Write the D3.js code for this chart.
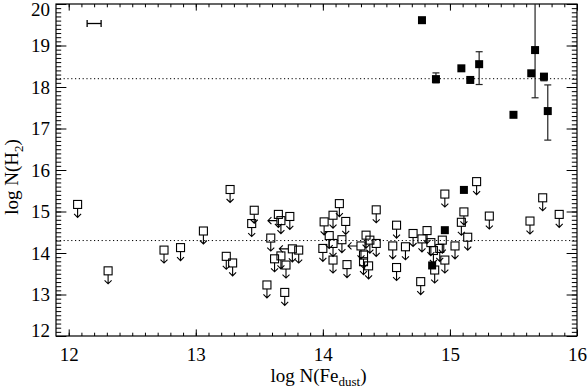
<!DOCTYPE html>
<html>
<head>
<meta charset="utf-8">
<script src="https://cdn.jsdelivr.net/npm/d3@7/dist/d3.min.js"></script>
<style>
body { margin: 0; background: #fff; }
svg { display: block; }
text { font-family: "Liberation Serif", "Times New Roman", serif; fill: #000; }
</style>
</head>
<body>
<div id="chart"></div>
<script>
// upper limits on N(H2) (open squares + down arrow)
var limX = [12.07, 12.31, 12.75, 12.88, 13.06, 13.27, 13.24, 13.29, 13.46, 13.44,
            13.56, 13.59, 13.65, 13.67, 13.74, 13.62, 13.67, 13.71, 13.70, 13.76,
            13.81, 14.01, 14.08, 14.13, 14.18, 14.05, 14.00, 14.08, 14.15, 14.08,
            14.19, 14.30, 14.34, 14.37, 14.42, 14.32, 14.32, 14.36, 14.42, 14.58,
            14.55, 14.65, 14.58, 14.71, 14.82, 14.78, 14.77, 14.85, 14.87, 14.92,
            14.94, 14.88, 14.96, 15.04, 14.96, 15.11, 15.09, 15.14, 15.21, 15.31,
            15.63, 15.73, 15.86];
var limY = [15.17, 13.57, 14.07, 14.13, 14.53, 15.53, 13.92, 13.76, 15.03, 14.71,
            13.23, 14.36, 14.93, 14.78, 14.88, 13.86, 13.93, 13.71, 13.05, 14.10,
            14.07, 14.75, 14.91, 15.19, 14.76, 14.42, 14.11, 14.23, 14.32, 13.83,
            13.72, 14.17, 14.43, 14.31, 14.23, 13.95, 13.79, 13.69, 15.04, 14.67,
            14.17, 14.15, 13.65, 14.47, 14.54, 14.34, 13.31, 14.25, 14.06, 14.11,
            14.31, 13.59, 13.83, 14.17, 15.42, 14.99, 14.74, 14.38, 15.72, 14.89,
            14.77, 15.33, 14.93];
// 1 = also an upper limit on N(Fe_dust) (left arrow)
var limLeft = [0, 0, 0, 0, 0, 0, 0, 0, 0, 0,
               0, 0, 0, 1, 0, 0, 0, 0, 0, 1,
               0, 0, 0, 0, 0, 0, 0, 0, 0, 0,
               0, 1, 0, 0, 0, 0, 0, 0, 0, 0,
               0, 0, 0, 0, 0, 0, 0, 0, 0, 0,
               0, 0, 0, 0, 0, 0, 0, 0, 0, 0,
               0, 0, 0];

// detections (filled squares), error bar ends (null = none)
var detX  = [14.78, 14.89, 15.09, 15.16, 15.23, 15.50, 15.64, 15.67, 15.74, 15.77, 15.11, 14.96, 14.86];
var detY  = [19.61, 18.19, 18.45, 18.17, 18.55, 17.33, 18.33, 18.89, 18.25, 17.42, 15.52, 14.55, 13.70];
var detLo = [null, 18.10, null, null, 18.06, null, null, 17.74, 18.15, 16.72, null, null, null];
var detHi = [null, 18.34, null, null, 18.85, null, null, 20.50, 18.30, 18.05, null, null, null];

var xTicks = [12, 13, 14, 15, 16];
var yTicks = [12, 13, 14, 15, 16, 17, 18, 19, 20];
var cutLines = [18.2, 14.3];
var typErrX = [12.145, 12.255], typErrY = 19.53;

var width = 587, height = 388;
var plotL = 56, plotR = 577, plotT = 4, plotB = 336;
var sq = 4; // half size of squares

var x = d3.scaleLinear().domain([11.9, 16]).range([plotL, plotR]);
var y = d3.scaleLinear().domain([12, 20]).range([plotB, plotT]);

var svg = d3.select("#chart").append("svg")
    .attr("width", width)
    .attr("height", height);

svg.append("defs").append("clipPath").attr("id", "plotclip")
    .append("rect").attr("x", plotL).attr("y", plotT)
    .attr("width", plotR - plotL).attr("height", plotB - plotT);

var xMinor = d3.range(120, 161).map(function(d) { return d / 10; });
var yMinor = d3.range(120, 201).map(function(d) { return d / 10; });

// axes, ticks pointing inward
function axisGroup(gen, tx, ty) {
  var g = svg.append("g").attr("transform", "translate(" + tx + "," + ty + ")").call(gen);
  g.select(".domain").remove();
  g.selectAll("line").attr("stroke", "#000").attr("stroke-width", 1);
  return g;
}

axisGroup(d3.axisBottom(x).tickValues(xMinor).tickSize(-3.3).tickFormat(""), 0, plotB);
axisGroup(d3.axisTop(x).tickValues(xMinor).tickSize(-3.3).tickFormat(""), 0, plotT);
axisGroup(d3.axisTop(x).tickValues(xTicks).tickSize(-6.6).tickFormat(""), 0, plotT);
var gx = axisGroup(d3.axisBottom(x).tickValues(xTicks).tickSize(-6.6).tickPadding(12).tickFormat(d3.format("d")), 0, plotB);
gx.selectAll("text").attr("font-size", 19).attr("font-family", null);

axisGroup(d3.axisLeft(y).tickValues(yMinor).tickSize(-5.2).tickFormat(""), plotL, 0);
axisGroup(d3.axisRight(y).tickValues(yMinor).tickSize(-5.2).tickFormat(""), plotR, 0);
axisGroup(d3.axisRight(y).tickValues(yTicks).tickSize(-10.4).tickFormat(""), plotR, 0);
var gy = axisGroup(d3.axisLeft(y).tickValues(yTicks).tickSize(-10.4).tickPadding(6).tickFormat(d3.format("d")), plotL, 0);
gy.selectAll("text").attr("font-size", 19).attr("font-family", null)
  .attr("dy", function(d) { return d === 20 ? "0.66em" : d === 12 ? "0em" : "0.33em"; })
  .attr("y", function(d) { return d === 20 ? -1 : 0; });

// frame
svg.append("rect")
    .attr("x", plotL).attr("y", plotT)
    .attr("width", plotR - plotL).attr("height", plotB - plotT)
    .attr("fill", "none").attr("stroke", "#000").attr("stroke-width", 1.2);

// dotted reference levels
svg.append("g").selectAll("line").data(cutLines).enter().append("line")
    .attr("x1", plotL).attr("x2", plotR)
    .attr("y1", function(d) { return y(d); }).attr("y2", function(d) { return y(d); })
    .attr("stroke", "#000").attr("stroke-width", 1)
    .attr("stroke-dasharray", "1.2,2.6");

// typical error
var te = svg.append("g").attr("stroke", "#000").attr("stroke-width", 1.3);
te.append("line").attr("x1", x(typErrX[0])).attr("x2", x(typErrX[1]))
  .attr("y1", y(typErrY)).attr("y2", y(typErrY));
te.selectAll(".cap").data(typErrX).enter().append("line")
  .attr("x1", function(d) { return x(d); }).attr("x2", function(d) { return x(d); })
  .attr("y1", y(typErrY) - 3.5).attr("y2", y(typErrY) + 3.5);

// upper limits
var lims = limX.map(function(d, i) { return { x: limX[i], y: limY[i], left: limLeft[i] }; });
var lg = svg.append("g").attr("fill", "none").attr("stroke", "#000").attr("stroke-width", 1.1);
var lim = lg.selectAll("g").data(lims).enter().append("g")
    .attr("transform", function(d) { return "translate(" + x(d.x) + "," + y(d.y) + ")"; });
lim.append("rect").attr("x", -sq).attr("y", -sq).attr("width", 2 * sq).attr("height", 2 * sq);
lim.append("path").attr("d", "M0," + sq + "V" + (sq + 9) + "M-3.5," + (sq + 5.5) + "L0," + (sq + 9) + "L3.5," + (sq + 5.5));
lim.filter(function(d) { return d.left; }).append("path")
    .attr("d", "M" + (-sq) + ",0H" + (-sq - 9) + "M" + (-sq - 5.5) + ",-3.5L" + (-sq - 9) + ",0L" + (-sq - 5.5) + ",3.5");

// detections
var dets = detX.map(function(d, i) { return { x: detX[i], y: detY[i], lo: detLo[i], hi: detHi[i] }; });
var dg = svg.append("g").attr("clip-path", "url(#plotclip)");
var err = dg.selectAll(".err").data(dets.filter(function(d) { return d.lo !== null; })).enter().append("g")
    .attr("stroke", "#222").attr("stroke-width", 1.2);
err.append("line")
    .attr("x1", function(d) { return x(d.x); }).attr("x2", function(d) { return x(d.x); })
    .attr("y1", function(d) { return y(d.lo); }).attr("y2", function(d) { return y(d.hi); });
err.append("line")
    .attr("x1", function(d) { return x(d.x) - 3.5; }).attr("x2", function(d) { return x(d.x) + 3.5; })
    .attr("y1", function(d) { return y(d.lo); }).attr("y2", function(d) { return y(d.lo); });
err.append("line")
    .attr("x1", function(d) { return x(d.x) - 3.5; }).attr("x2", function(d) { return x(d.x) + 3.5; })
    .attr("y1", function(d) { return y(d.hi); }).attr("y2", function(d) { return y(d.hi); });
dg.selectAll(".det").data(dets).enter().append("rect")
    .attr("x", function(d) { return x(d.x) - sq; })
    .attr("y", function(d) { return y(d.y) - sq; })
    .attr("width", 2 * sq).attr("height", 2 * sq)
    .attr("fill", "#000");

// axis titles
var xt = svg.append("text").attr("x", (plotL + plotR) / 2 + 2).attr("y", 382)
    .attr("text-anchor", "middle").attr("font-size", 19);
xt.append("tspan").text("log N(Fe");
xt.append("tspan").attr("dy", 4).attr("font-size", 13).text("dust");
xt.append("tspan").attr("dy", -4).text(")");

var yt = svg.append("text").attr("transform", "translate(18,177) rotate(-90)")
    .attr("text-anchor", "middle").attr("font-size", 19);
yt.append("tspan").text("log N(H");
yt.append("tspan").attr("dy", 5).attr("font-size", 13).text("2");
yt.append("tspan").attr("dy", -5).text(")");
</script>
</body>
</html>
